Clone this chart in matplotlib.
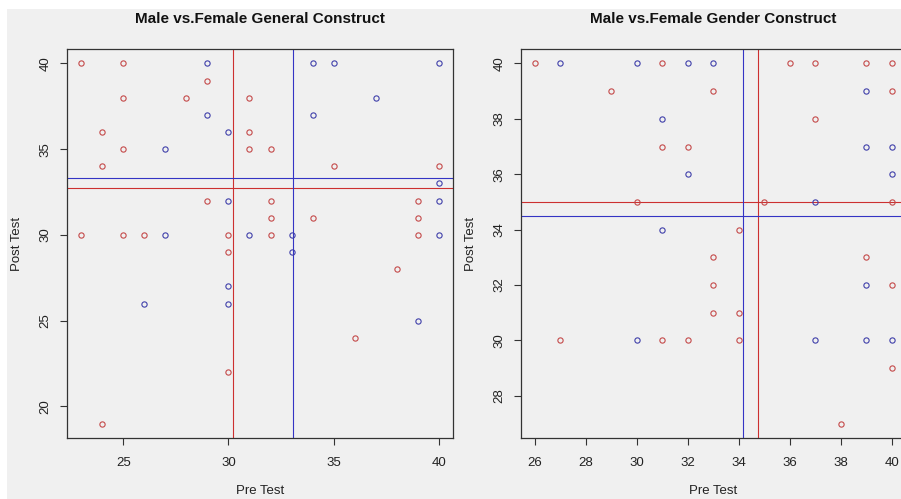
import matplotlib
matplotlib.use("Agg")
import matplotlib.pyplot as plt
from matplotlib.patches import Rectangle

plt.rcParams.update({
    "font.family": ["Liberation Sans", "DejaVu Sans"],
    "font.size": 9,
})

# ── Data: General construct (left) ───────────────────────────────
gen_red_x = [23, 25, 29, 25, 28, 31, 24, 31, 25, 31, 32, 24, 35, 40, 29, 32,
             39, 32, 34, 39, 23, 25, 26, 30, 32, 39, 30, 38, 36, 30, 24]
gen_red_y = [40, 40, 39, 38, 38, 38, 36, 36, 35, 35, 35, 34, 34, 34, 32, 32,
             32, 31, 31, 31, 30, 30, 30, 30, 30, 30, 29, 28, 24, 22, 19]
gen_blue_x = [29, 34, 35, 40, 37, 29, 34, 30, 27, 40, 30, 40, 27, 31, 33, 40,
              33, 30, 30, 26, 39]
gen_blue_y = [40, 40, 40, 40, 38, 37, 37, 36, 35, 33, 32, 32, 30, 30, 30, 30,
              29, 27, 26, 26, 25]
gen_red_mean = (30.2, 32.74)    # (pre, post)
gen_blue_mean = (33.08, 33.29)

# ── Data: Gender construct (right) ───────────────────────────────
gdr_red_x = [26, 31, 36, 37, 39, 40, 29, 33, 40, 37, 31, 32, 30, 35, 40, 34,
             33, 39, 33, 40, 33, 34, 27, 31, 32, 34, 40, 38]
gdr_red_y = [40, 40, 40, 40, 40, 40, 39, 39, 39, 38, 37, 37, 35, 35, 35, 34,
             33, 33, 32, 32, 31, 31, 30, 30, 30, 30, 29, 27]
gdr_blue_x = [27, 30, 32, 33, 31, 39, 32, 39, 40, 40, 37, 31, 39, 30, 37, 39, 40]
gdr_blue_y = [40, 40, 40, 40, 38, 39, 36, 37, 37, 36, 35, 34, 32, 30, 30, 30, 30]
gdr_red_mean = (34.75, 35.0)
gdr_blue_mean = (34.16, 34.5)

RED_PT, RED_LN = "#c44a4a", "#cc3030"
BLUE_PT, BLUE_LN = "#4040aa", "#3434c4"
BG = "#f0f0f0"

fig = plt.figure(figsize=(9.01, 4.99), dpi=100, facecolor=BG)
# white strips on the top and left edges of the screenshot
fig.add_artist(Rectangle((0, 1 - 9 / 499), 1, 9 / 499, transform=fig.transFigure,
                         facecolor="white", edgecolor="none", zorder=0))
fig.add_artist(Rectangle((0, 0), 7 / 901, 1, transform=fig.transFigure,
                         facecolor="white", edgecolor="none", zorder=0))

ax1 = fig.add_axes([67 / 901, 61 / 499, 386 / 901, 389 / 499])
ax2 = fig.add_axes([520.7 / 901, 61 / 499, 385.3 / 901, 389 / 499])

panels = [
    (ax1, "Male vs.Female General Construct",
     gen_red_x, gen_red_y, gen_blue_x, gen_blue_y, gen_red_mean, gen_blue_mean,
     (22.32, 40.68), (18.16, 40.84), [25, 30, 35, 40], [20, 25, 30, 35, 40]),
    (ax2, "Male vs.Female Gender Construct",
     gdr_red_x, gdr_red_y, gdr_blue_x, gdr_blue_y, gdr_red_mean, gdr_blue_mean,
     (25.44, 40.56), (26.48, 40.52), list(range(26, 41, 2)), list(range(28, 41, 2))),
]

for (ax, title, rx, ry, bx, by, rmean, bmean, xlim, ylim, xt, yt) in panels:
    ax.set_facecolor(BG)
    ax.plot(rx, ry, linestyle="none", marker="o", ms=3.8, mfc="none",
            mec=RED_PT, mew=0.8, zorder=3)
    ax.plot(bx, by, linestyle="none", marker="o", ms=3.8, mfc="none",
            mec=BLUE_PT, mew=0.8, zorder=3)
    ax.axvline(rmean[0], color=RED_LN, lw=0.8, zorder=2)
    ax.axhline(rmean[1], color=RED_LN, lw=0.8, zorder=2)
    ax.axvline(bmean[0], color=BLUE_LN, lw=0.8, zorder=2)
    ax.axhline(bmean[1], color=BLUE_LN, lw=0.8, zorder=2)

    ax.set_xlim(*xlim)
    ax.set_ylim(*ylim)
    ax.set_xticks(xt)
    ax.set_yticks(yt)
    for lbl in ax.get_yticklabels():
        lbl.set_rotation(90)
        lbl.set_va("center")

    ax.set_xlabel("Pre Test", fontsize=9.5, color="#222222", labelpad=11)
    ax.set_ylabel("Post Test", fontsize=9.5, color="#222222", labelpad=12)
    ax.text(0.5, 1 + 30 / 389, title, transform=ax.transAxes, ha="center",
            va="center", fontsize=11, fontweight="bold", color="#111111")

    ax.tick_params(length=5, width=0.8, color="#333333", labelcolor="#222222",
                   labelsize=9.5)
    ax.tick_params(axis="x", pad=9)
    ax.tick_params(axis="y", pad=6)
    for sp in ax.spines.values():
        sp.set_linewidth(0.9)
        sp.set_color("#333333")

fig.savefig("out.png", dpi=100, facecolor=BG)
plt.close()
